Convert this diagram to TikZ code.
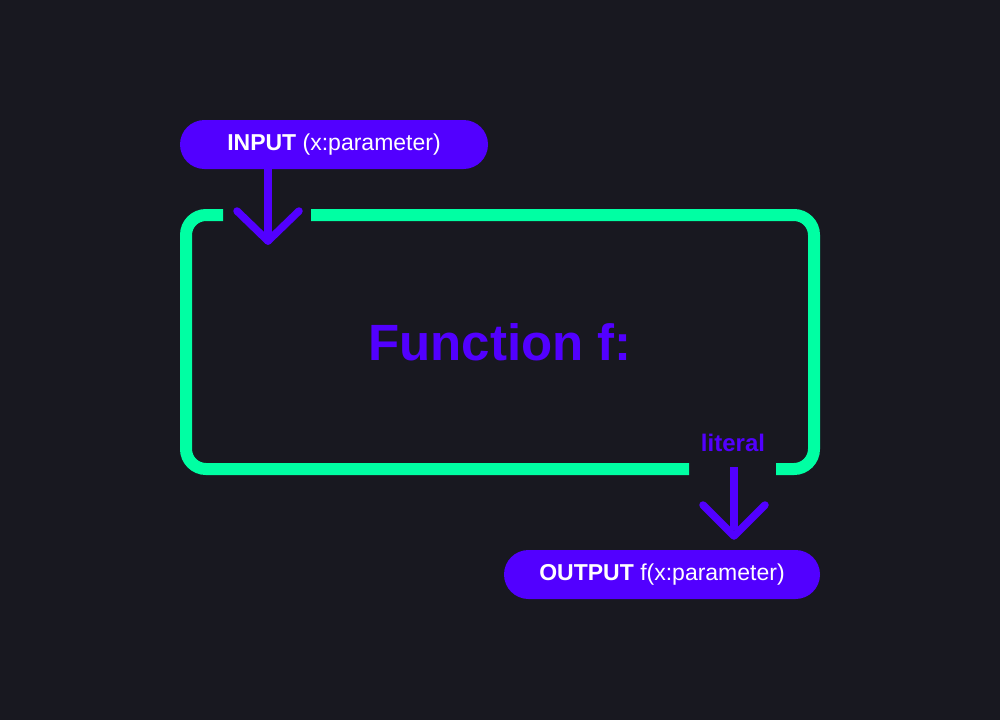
\documentclass[tikz,border=0pt]{standalone}
\usepackage{fontspec}
\setmainfont{Liberation Sans}
\definecolor{bg}{HTML}{181820}
\definecolor{grn}{HTML}{00FFA3}
\definecolor{prp}{HTML}{5200FF}
\begin{document}
\begin{tikzpicture}[x=1pt,y=-1pt,
  frame/.style={draw=grn,line width=12pt,line cap=butt},
  pill/.style={fill=prp,rounded corners=24.5pt,minimum height=49pt,inner sep=0pt,text=white,font=\fontsize{23}{26}\selectfont},
  conn/.style={draw=prp,line width=7.5pt,line cap=round,line join=round},
  lbl/.style={text=prp,font=\bfseries\fontsize{24}{28}\selectfont,inner sep=0pt}]
\fill[bg] (0,0) rectangle (1000,720);
\useasboundingbox (0,0) rectangle (1000,720);
% frame
\coordinate (tg1) at (223,215);
\coordinate (tg2) at (311,215);
\coordinate (bg1) at (689,469);
\coordinate (bg2) at (776,469);
\draw[frame,rounded corners=20pt] (tg1) -- (186,215) -- (186,469) -- (bg1);
\draw[frame,rounded corners=20pt] (bg2) -- (814,469) -- (814,215) -- (tg2);
% pills
\node[pill,minimum width=308pt] (in) at (334,144.5) {\textbf{INPUT} (x:parameter)};
\node[pill,minimum width=316pt] (out) at (662,574.5) {\textbf{OUTPUT} f(x:parameter)};
% center text
\node[text=prp,font=\bfseries\fontsize{51}{56}\selectfont,inner sep=0pt] (fn) at (500,342) {Function f:};
\node[lbl] (lit) at (733,443) {literal};
% arrows
\coordinate (intip) at (268,241);
\draw[conn] (in.south -| intip) -- (intip);
\draw[conn] (237,211) -- (intip) -- (299,211);
\coordinate (outtop) at (734,467);
\coordinate (outtip) at (734,536);
\draw[conn,line cap=butt] (outtop) -- (734,530);
\draw[conn] (703,505) -- (outtip) -- (765,505);
\end{tikzpicture}
\end{document}
